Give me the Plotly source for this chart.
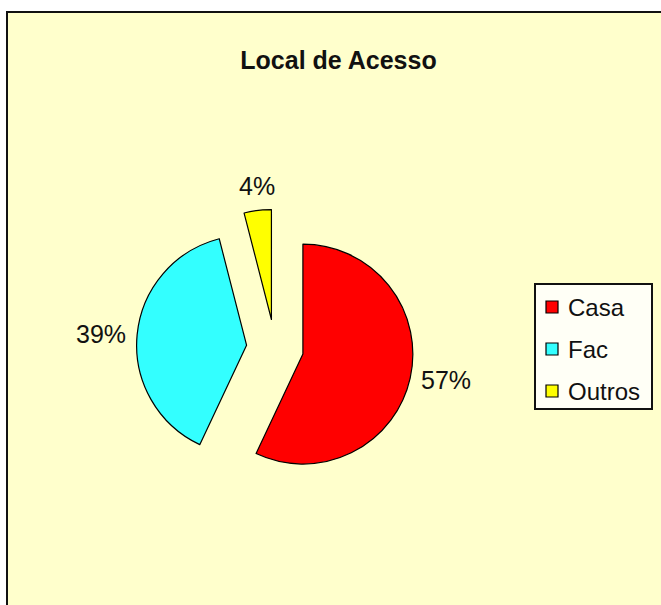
import math
import plotly.graph_objects as go

# Access location survey
categories = ["Casa", "Fac", "Outros"]
shares = [57, 39, 4]
slice_colors = ["#FF0000", "#33FFFF", "#FFFF00"]
chart_title = "Local de Acesso"

W, H = 661, 605
FONT = "Liberation Sans, Arial, sans-serif"
INK = "#111111"
PULL = 0.26
DOM_X = [0.2065, 0.6256]
DOM_Y = [0.196, 0.654]


def px_x(x):
    return x / W


def px_y(y):
    return 1 - y / H


fig = go.Figure(
    go.Pie(
        labels=categories,
        values=shares,
        sort=False,
        direction="clockwise",
        rotation=0,
        pull=[PULL] * len(shares),
        marker=dict(colors=slice_colors, line=dict(color="#000000", width=1.2)),
        textinfo="none",
        hoverinfo="skip",
        showlegend=False,
        domain=dict(x=DOM_X, y=DOM_Y),
    )
)

# Pie geometry in pixels (same rule plotly uses: r = box / (2 + 2*pull))
box_w = (DOM_X[1] - DOM_X[0]) * W
box_h = (DOM_Y[1] - DOM_Y[0]) * H
radius = min(box_w, box_h) / (2 + 2 * PULL)
cx = (DOM_X[0] + DOM_X[1]) / 2 * W
cy = (1 - (DOM_Y[0] + DOM_Y[1]) / 2) * H

# Percentage labels just outside each exploded slice, along its bisector
total = sum(shares)
start = 0.0
label_gap = 9
for val in shares:
    frac = val / total
    mid = (start + frac / 2) * 2 * math.pi
    start += frac
    dx, dy = math.sin(mid), -math.cos(mid)
    ax = cx + dx * (PULL * radius + radius + label_gap)
    ay = cy + dy * (PULL * radius + radius + label_gap)
    xanchor = "left" if dx > 0.3 else ("right" if dx < -0.3 else "center")
    yanchor = "bottom" if dy < -0.3 else ("top" if dy > 0.3 else "middle")
    fig.add_annotation(
        x=px_x(ax), y=px_y(ay), xref="paper", yref="paper",
        text=f"{round(frac * 100)}%", showarrow=False,
        xanchor=xanchor, yanchor=yanchor,
        font=dict(family=FONT, size=25, color=INK),
    )

# Chart-area panel with a dark frame
fig.add_shape(
    type="rect", xref="paper", yref="paper",
    x0=px_x(7), x1=1.05, y0=-0.05, y1=px_y(12),
    fillcolor="#FFFFCC", line=dict(color=INK, width=2), layer="below",
)

# Legend box with swatches
leg_left, leg_right, leg_top, leg_bottom = 535, 652, 284, 409
row_first, row_step = 307, 42
fig.add_shape(
    type="rect", xref="paper", yref="paper",
    x0=px_x(leg_left), x1=px_x(leg_right), y0=px_y(leg_bottom), y1=px_y(leg_top),
    fillcolor="#FFFFF6", line=dict(color=INK, width=2),
)
for i, (name, col) in enumerate(zip(categories, slice_colors)):
    yc = row_first + i * row_step
    fig.add_shape(
        type="rect", xref="paper", yref="paper",
        x0=px_x(546), x1=px_x(558), y0=px_y(yc + 6), y1=px_y(yc - 6),
        fillcolor=col, line=dict(color="#000000", width=1.2),
    )
    fig.add_annotation(
        x=px_x(566), y=px_y(yc), xref="paper", yref="paper",
        text=name, showarrow=False, xanchor="left", yanchor="middle",
        font=dict(family=FONT, size=24, color=INK),
    )

fig.update_layout(
    width=W, height=H,
    margin=dict(l=0, r=0, t=0, b=0),
    paper_bgcolor="#FFFFFF",
    title=dict(
        text=f"<b>{chart_title}</b>",
        x=px_x(338.5), xanchor="center",
        y=px_y(60), yanchor="middle",
        font=dict(family=FONT, size=25, color=INK),
    ),
    showlegend=False,
)

fig.write_html("out.html")
